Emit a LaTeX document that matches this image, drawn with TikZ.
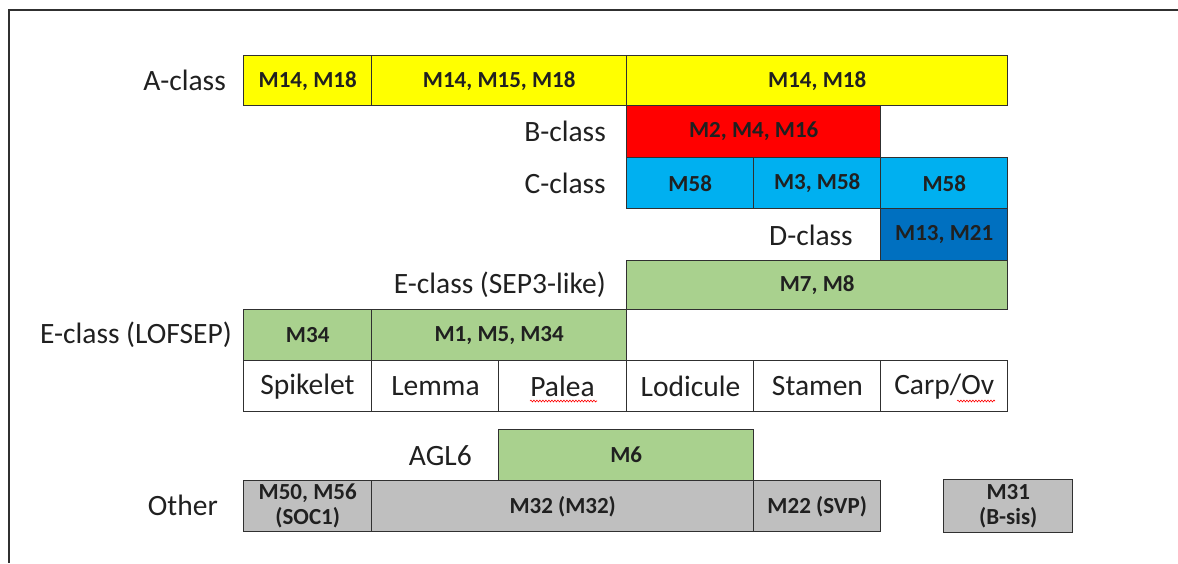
\documentclass[tikz,border=0pt]{standalone}
\usepackage{fontspec}
\setmainfont{Carlito}
\usetikzlibrary{decorations.pathmorphing}
\definecolor{cyel}{HTML}{FFFF00}
\definecolor{cred}{HTML}{FF0000}
\definecolor{cblue}{HTML}{00B0F0}
\definecolor{cdblue}{HTML}{0070C0}
\definecolor{cgreen}{HTML}{A9D18E}
\definecolor{cgray}{HTML}{BFBFBF}
\definecolor{cline}{HTML}{303030}
\definecolor{ctext}{HTML}{202020}
\begin{document}
\begin{tikzpicture}[x=1pt,y=-1pt,
  cell/.style={draw=cline, line width=1.4pt, anchor=north west, inner sep=0pt, align=center,
    font=\fontsize{23}{25}\selectfont\bfseries, text=ctext},
  organ/.style={draw=cline, line width=1.4pt, anchor=north west, inner sep=0pt, fill=white,
    font=\fontsize{29.5}{32}\selectfont, text=ctext, minimum width=127.5pt, minimum height=51pt},
  lbl/.style={anchor=east, inner sep=0pt, font=\fontsize{29.5}{32}\selectfont, text=ctext},
  spell/.style={draw=red, line width=0.6pt, decorate, decoration={snake, amplitude=0.9pt, segment length=3pt}}]
\useasboundingbox (0,0) rectangle (1178,563);
% frame (cropped)
\coordinate (ftl) at (9,10);
\coordinate (ftr) at (1178,10);
\coordinate (fbl) at (9,563);
\draw[line width=1.6pt, cline] (ftr) -- (ftl) -- (fbl);
% A-class
\node[cell, fill=cyel, minimum width=128pt, minimum height=50pt] (a1) at (243,55) {M14, M18};
\node[cell, fill=cyel, minimum width=255pt, minimum height=50pt] (a2) at (371,55) {M14, M15, M18};
\node[cell, fill=cyel, minimum width=381pt, minimum height=50pt] (a3) at (626,55) {M14, M18};
\node[lbl] (la) at (226,80) {A-class};
% B-class
\node[cell, fill=cred, minimum width=254pt, minimum height=52pt] (b1) at (626,105) {M2, M4, M16};
\node[lbl] (lb) at (606,131) {B-class};
% C-class
\node[cell, fill=cblue, minimum width=127pt, minimum height=51pt] (c1) at (626,157) {M58};
\node[cell, fill=cblue, minimum width=127pt, minimum height=51pt] (c2) at (753,157) {M3, M58};
\node[cell, fill=cblue, minimum width=127pt, minimum height=51pt] (c3) at (880,157) {M58};
\node[lbl] (lc) at (606,183) {C-class};
% D-class
\node[cell, fill=cdblue, minimum width=127pt, minimum height=52pt] (d1) at (880,208) {M13, M21};
\node[lbl] (ld) at (853,235) {D-class};
% E-class SEP3
\node[cell, fill=cgreen, minimum width=381pt, minimum height=49pt] (e1) at (626,260) {M7, M8};
\node[lbl] (le) at (606,285) {E-class (SEP3-like)};
% E-class LOFSEP
\node[cell, fill=cgreen, minimum width=128pt, minimum height=51pt] (f1) at (243,309) {M34};
\node[cell, fill=cgreen, minimum width=255pt, minimum height=51pt] (f2) at (371,309) {M1, M5, M34};
\node[lbl] (lf) at (232,335) {E-class (LOFSEP)};
% organs
\node[organ] (o1) at (243,360) {Spikelet};
\node[organ] (o2) at (371,360) {Lemma};
\node[organ] (o3) at (498,360) {Palea};
\node[organ] (o4) at (626,360) {Lodicule};
\node[organ] (o5) at (753,360) {Stamen};
\node[organ, minimum width=127pt] (o6) at (880,360) {Carp/Ov};
\coordinate (p1) at (530,401);
\coordinate (p2) at (597,401);
\coordinate (v1) at (957,401);
\coordinate (v2) at (995,401);
\draw[spell] (p1) -- (p2);
\draw[spell] (v1) -- (v2);
% AGL6
\node[cell, fill=cgreen, minimum width=255pt, minimum height=51pt] (g1) at (498,429) {M6};
\node[lbl] (lg) at (472,456) {AGL6};
% Other
\node[cell, fill=cgray, minimum width=128pt, minimum height=51pt, font=\fontsize{23}{25}\selectfont\bfseries] (h1) at (243,480) {M50, M56\\(SOC1)};
\node[cell, fill=cgray, minimum width=382pt, minimum height=51pt] (h2) at (371,480) {M32 (M32)};
\node[cell, fill=cgray, minimum width=127pt, minimum height=51pt] (h3) at (753,480) {M22 (SVP)};
\node[cell, fill=cgray, minimum width=129pt, minimum height=53pt, font=\fontsize{23}{25}\selectfont\bfseries] (h4) at (943,479) {M31\\(B-sis)};
\node[lbl] (lh) at (218,505) {Other};
\end{tikzpicture}
\end{document}
